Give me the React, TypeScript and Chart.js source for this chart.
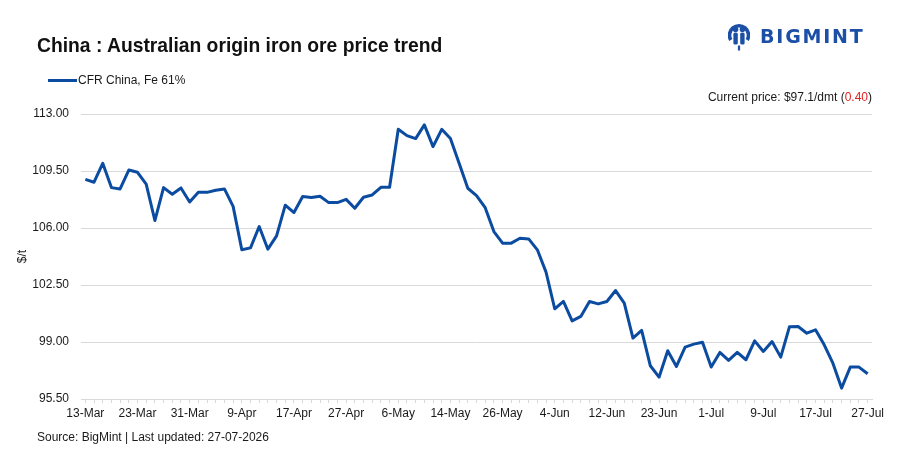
import React, { useEffect, useRef } from "react";
import { Chart, registerables } from "chart.js";

Chart.register(...registerables);

const dates: string[] = [
  "13-Mar", "16-Mar", "17-Mar", "18-Mar", "19-Mar", "20-Mar", "23-Mar", "24-Mar", "25-Mar", "26-Mar",
  "27-Mar", "30-Mar", "31-Mar", "1-Apr", "2-Apr", "3-Apr", "7-Apr", "8-Apr", "9-Apr", "10-Apr",
  "13-Apr", "14-Apr", "15-Apr", "16-Apr", "17-Apr", "20-Apr", "21-Apr", "22-Apr", "23-Apr", "24-Apr",
  "27-Apr", "28-Apr", "29-Apr", "30-Apr", "4-May", "5-May", "6-May", "7-May", "8-May", "11-May",
  "12-May", "13-May", "14-May", "15-May", "18-May", "19-May", "20-May", "21-May", "26-May", "27-May",
  "28-May", "29-May", "1-Jun", "2-Jun", "4-Jun", "5-Jun", "8-Jun", "9-Jun", "10-Jun", "11-Jun",
  "12-Jun", "15-Jun", "16-Jun", "17-Jun", "18-Jun", "22-Jun", "23-Jun", "24-Jun", "25-Jun", "26-Jun",
  "29-Jun", "30-Jun", "1-Jul", "2-Jul", "3-Jul", "6-Jul", "7-Jul", "8-Jul", "9-Jul", "10-Jul",
  "13-Jul", "14-Jul", "15-Jul", "16-Jul", "17-Jul", "20-Jul", "21-Jul", "22-Jul", "23-Jul", "24-Jul",
  "27-Jul",
];

const cfrChinaFe61: number[] = [
  108.99, 108.81, 109.97, 108.48, 108.4, 109.56, 109.42, 108.69, 106.46, 108.48,
  108.07, 108.46, 107.6, 108.19, 108.19, 108.32, 108.4, 107.33, 104.66, 104.78,
  106.09, 104.7, 105.52, 107.4, 106.95, 107.93, 107.87, 107.95, 107.56, 107.56,
  107.76, 107.21, 107.89, 108.03, 108.5, 108.5, 112.06, 111.67, 111.49, 112.33,
  111.0, 112.06, 111.49, 109.97, 108.44, 107.99, 107.25, 105.78, 105.07, 105.07,
  105.37, 105.33, 104.66, 103.29, 101.04, 101.49, 100.3, 100.57, 101.49, 101.34,
  101.49, 102.16, 101.39, 99.24, 99.71, 97.54, 96.84, 98.46, 97.5, 98.69,
  98.87, 98.99, 97.46, 98.36, 97.87, 98.36, 97.91, 99.07, 98.42, 99.03,
  98.07, 99.93, 99.95, 99.54, 99.75, 98.83, 97.7, 96.17, 97.46, 97.46,
  97.05,
];

const seriesName = "CFR China, Fe 61%";
const yMin = 95.5;
const yMax = 113;
const yStep = 3.5;
const labelEvery = 6;
const currentPrice = "$97.1/dmt";
const priceChange = "0.40";

const BLUE = "#0b4ca0";
const LOGO = "#1c4fa6";
const TXT = "#1a1a1a";
const FONT = "'Liberation Sans', Arial, sans-serif";

export default function App() {
  const ref = useRef<HTMLCanvasElement | null>(null);

  useEffect(() => {
    if (!ref.current) return;
    const chart = new Chart(ref.current, {
      type: "line",
      data: {
        labels: dates,
        datasets: [
          {
            label: seriesName,
            data: cfrChinaFe61,
            borderColor: BLUE,
            backgroundColor: BLUE,
            borderWidth: 3,
            pointRadius: 0,
            tension: 0,
            borderJoinStyle: "round",
          },
        ],
      },
      options: {
        animation: false,
        responsive: false,
        devicePixelRatio: 1,
        layout: { padding: { top: 114, right: 34, bottom: 0, left: 0 } },
        plugins: { legend: { display: false }, tooltip: { enabled: false } },
        scales: {
          x: {
            type: "category",
            offset: true,
            afterFit: (s: any) => {
              s.height = 54;
            },
            grid: {
              display: true,
              drawOnChartArea: false,
              drawTicks: true,
              tickLength: 4,
              color: "#d9d9d9",
            },
            border: { display: true, color: "#d9d9d9" },
            ticks: {
              autoSkip: false,
              maxRotation: 0,
              minRotation: 0,
              padding: 3,
              color: TXT,
              font: { family: FONT, size: 12 },
              callback: (_v: any, i: number) => (i % labelEvery === 0 ? dates[i] : ""),
            },
          },
          y: {
            min: yMin,
            max: yMax,
            afterFit: (s: any) => {
              s.width = 81;
            },
            grid: { color: "#d9d9d9", drawTicks: false, lineWidth: 1 },
            border: { display: false },
            title: {
              display: true,
              text: "$/t",
              color: TXT,
              font: { family: FONT, size: 12 },
              padding: { top: 15, bottom: 0 },
            },
            ticks: {
              stepSize: yStep,
              padding: 12,
              color: TXT,
              font: { family: FONT, size: 12 },
              callback: (v: any) => Number(v).toFixed(2),
            },
          },
        },
      },
    });
    return () => chart.destroy();
  }, []);

  return (
    <div
      style={{
        position: "absolute",
        left: 0,
        top: 0,
        width: 906,
        height: 453,
        background: "#fff",
        fontFamily: FONT,
        color: "#111",
      }}
    >
      <canvas ref={ref} width={906} height={453} style={{ position: "absolute", left: 0, top: 0 }} />
      <div
        style={{
          position: "absolute",
          left: 37,
          top: 35,
          fontSize: 19.3,
          lineHeight: "22px",
          fontWeight: 700,
          whiteSpace: "nowrap",
          color: "#111",
        }}
      >
        China : Australian origin iron ore price trend
      </div>
      <div style={{ position: "absolute", left: 728, top: 21, width: 140, height: 30, display: "flex", alignItems: "center" }}>
        <svg width="22" height="30" viewBox="0 0 22 30">
          <path d="M2.8 19 A9.5 9.5 0 1 1 19.2 19" fill="none" stroke={LOGO} strokeWidth="3.6" />
          <circle cx="7.6" cy="8.4" r="2.7" fill={LOGO} />
          <circle cx="14.4" cy="8.4" r="2.7" fill={LOGO} />
          <rect x="5.4" y="11.6" width="4.4" height="12" rx="1.6" fill={LOGO} />
          <rect x="12.2" y="11.6" width="4.4" height="12" rx="1.6" fill={LOGO} />
          <rect x="9.9" y="24.5" width="2.2" height="5" fill={LOGO} />
        </svg>
        <span
          style={{
            marginLeft: 10,
            fontSize: 19,
            fontWeight: 700,
            letterSpacing: 1.8,
            color: LOGO,
            fontFamily: "'DejaVu Sans', 'Liberation Sans', sans-serif",
            lineHeight: "20px",
          }}
        >
          BIGMINT
        </span>
      </div>
      <div style={{ position: "absolute", left: 48, top: 79, width: 29, height: 3, background: BLUE }} />
      <div style={{ position: "absolute", left: 78, top: 72, fontSize: 12, lineHeight: "16px", color: TXT, whiteSpace: "nowrap" }}>
        {seriesName}
      </div>
      <div
        style={{
          position: "absolute",
          right: 34,
          top: 89,
          fontSize: 12,
          lineHeight: "16px",
          color: TXT,
          whiteSpace: "nowrap",
        }}
      >
        Current price: {currentPrice} (<span style={{ color: "#e02020" }}>{priceChange}</span>)
      </div>
      <div style={{ position: "absolute", left: 37, top: 429, fontSize: 12, lineHeight: "16px", color: TXT, whiteSpace: "nowrap" }}>
        Source: BigMint | Last updated: 27-07-2026
      </div>
    </div>
  );
}
